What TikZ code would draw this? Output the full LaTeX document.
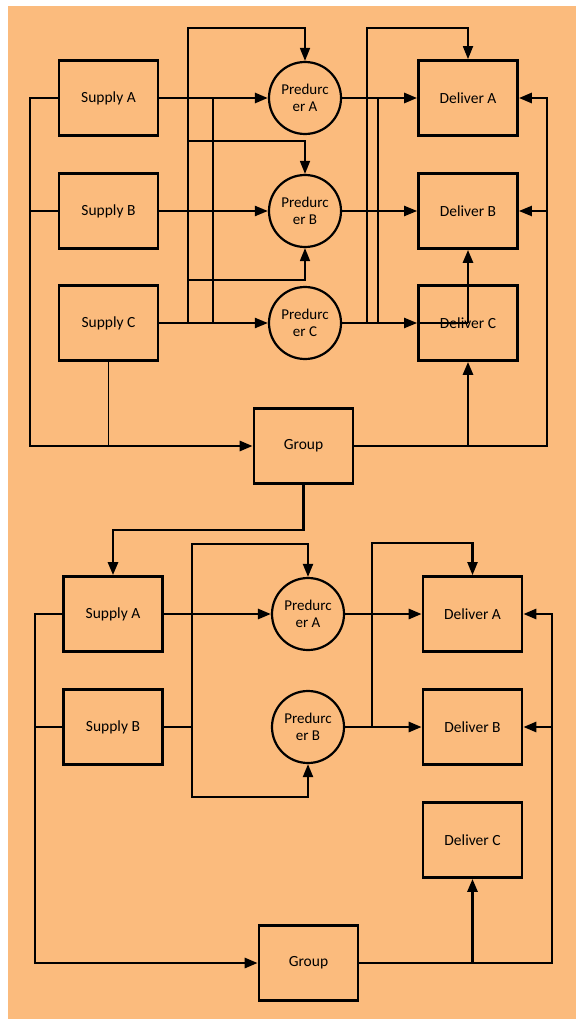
\documentclass[tikz,border=0pt]{standalone}
\usepackage{fontspec}
\setmainfont{Carlito}
\usetikzlibrary{arrows.meta}
\definecolor{bgor}{RGB}{251,187,125}
\begin{document}
\begin{tikzpicture}[x=1pt,y=-1pt,
 box/.style={draw, line width=2.7pt, minimum width=99pt, minimum height=75pt, inner sep=0pt, font=\fontsize{15.5}{17}\selectfont},
 proc/.style={draw, circle, line width=2.2pt, minimum size=72pt, inner sep=0pt, align=center, font=\fontsize{15}{16.5}\selectfont},
 thk/.style={line width=2.7pt},
 med/.style={line width=2.1pt},
 thn/.style={line width=1.7pt},
 tip/.style={-{Triangle[length=13pt,width=10pt]}},
 ]
\useasboundingbox (0,0) rectangle (576,1019);
\fill[white] (0,0) rectangle (576,1019);
\fill[bgor] (8,6) rectangle (576,1019);

% ---------- top section ----------
\node[box] (sA1) at (108.5,98) {Supply A};
\node[box] (sB1) at (108.5,211) {Supply B};
\node[box] (sC1) at (108.5,323) {Supply C};
\node[proc] (pA1) at (305,98) {Predurc\\er A};
\node[proc] (pB1) at (305,211) {Predurc\\er B};
\node[proc] (pC1) at (305,323) {Predurc\\er C};
\node[box] (dA1) at (468,98) {Deliver A};
\node[box] (dB1) at (468,211) {Deliver B};
\node[box] (dC1) at (468,323) {Deliver C};
\node[box] (g1) at (303.5,446) {Group};

\coordinate (c1) at (188,323);
\coordinate (c1t) at (188,28);
\coordinate (c2) at (213,98);
\coordinate (c2b) at (213,323);
\coordinate (c3) at (188,141);
\coordinate (c4) at (188,280);
\coordinate (c5) at (367,323);
\coordinate (c5t) at (367,28);
\coordinate (c6) at (378,98);
\coordinate (c6b) at (378,323);
\coordinate (lb1) at (30,98);
\coordinate (lb1m) at (30,211);
\coordinate (lb1b) at (30,446);
\coordinate (sc) at (108.5,446);
\coordinate (rb1) at (547,446);
\coordinate (rb1m) at (547,211);
\coordinate (rb1t) at (547,98);
\coordinate (gd1) at (468,446);
\coordinate (gb) at (303.5,530);

\draw[thk,tip] (sA1.east) -- (pA1.west);
\draw[med,tip] (sB1.east) -- (pB1.west);
\draw[med,tip] (sC1.east) -- (pC1.west);
\draw[thn,tip] (c1) -- (c1t) -| (pA1.north);
\draw[thn,tip] (c3) -| (pB1.north);
\draw[thn,tip] (c4) -| (pB1.south);
\draw[thn] (c2) -- (c2b);
\draw[thk,tip] (pA1.east) -- (dA1.west);
\draw[med,tip] (pB1.east) -- (dB1.west);
\draw[med,tip] (pC1.east) -- (dC1.west);
\draw[med] (dC1.west) -- (dC1.center);
\draw[thk,tip] (dC1.center) -- (dB1.south);
\draw[thn,tip] (c5) -- (c5t) -| (dA1.north);
\draw[thn] (c6) -- (c6b);
\draw[thk,tip] (sA1.west) -- (lb1) -- (lb1b) -- (g1.west);
\draw[med] (lb1m) -- (sB1.west);
\draw[thn] (sC1.south) -- (sc);
\draw[thk,tip] (g1.east) -- (rb1) -- (rb1t) -- (dA1.east);
\draw[med,tip] (rb1m) -- (dB1.east);
\draw[thk,tip] (gd1) -- (dC1.south);

% ---------- bottom section ----------
\node[box] (sA2) at (113,614) {Supply A};
\node[box] (sB2) at (113,727) {Supply B};
\node[proc] (pA2) at (308,614) {Predurc\\er A};
\node[proc] (pB2) at (308,727) {Predurc\\er B};
\node[box] (dA2) at (472.5,614) {Deliver A};
\node[box] (dB2) at (472.5,727) {Deliver B};
\node[box] (dC2) at (472.5,840) {Deliver C};
\node[box] (g2) at (308.5,963) {Group};

\draw[thk,tip] (g1.south) -- (gb) -| (sA2.north);

\coordinate (v1) at (192,727);
\coordinate (v1t) at (192,544);
\coordinate (v1b) at (192,797);
\coordinate (v2) at (372,727);
\coordinate (v2t) at (372,543);
\coordinate (lb2) at (35,614);
\coordinate (lb2m) at (35,727);
\coordinate (lb2b) at (35,963);
\coordinate (rb2) at (552,963);
\coordinate (rb2m) at (552,727);
\coordinate (rb2t) at (552,614);
\coordinate (gd2) at (472.5,963);

\draw[thk,tip] (sA2.east) -- (pA2.west);
\draw[thk] (sB2.east) -- (v1);
\draw[med,tip] (v1) -- (v1t) -| (pA2.north);
\draw[med,tip] (v1) -- (v1b) -| (pB2.south);
\draw[thk,tip] (pA2.east) -- (dA2.west);
\draw[thk,tip] (pB2.east) -- (dB2.west);
\draw[med,tip] (v2) -- (v2t) -| (dA2.north);
\draw[thk,tip] (sA2.west) -- (lb2) -- (lb2b) -- (g2.west);
\draw[med] (lb2m) -- (sB2.west);
\draw[thk,tip] (g2.east) -- (rb2) -- (rb2t) -- (dA2.east);
\draw[thk,tip] (rb2m) -- (dB2.east);
\draw[thk,tip] (gd2) -- (dC2.south);
\end{tikzpicture}
\end{document}
